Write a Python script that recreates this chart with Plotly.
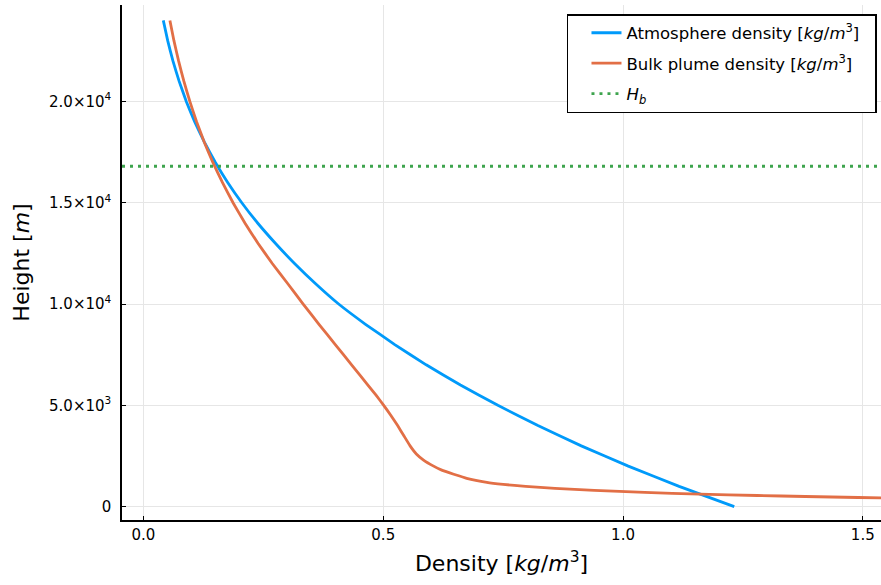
import plotly.graph_objects as go

# Atmosphere density profile (height m -> density kg/m^3)
atm_height = [0, 1000, 2000, 3000, 4000, 5000, 6000, 7000, 8000, 9000, 10000,
              11000, 12000, 13000, 14000, 15000, 16000, 17000, 18000, 19000, 20000,
              21000, 22000, 23000, 24000]
atm_density = [1.232, 1.117, 1.011, 0.913, 0.8225, 0.739, 0.661, 0.5895, 0.524,
               0.463, 0.407, 0.359, 0.315, 0.275, 0.238, 0.205, 0.1756, 0.1497,
               0.1268, 0.1067, 0.0893, 0.0743, 0.0614, 0.0505, 0.0413]

# Bulk plume density profile
plume_height = [24000, 23000, 22000, 21000, 20000, 19000, 18000, 17000, 16000, 15000,
                14000, 13000, 12000, 11000, 10000, 9000, 8000, 7000, 6000, 5500, 5000,
                4500, 4000, 3500, 3000, 2600, 2300, 2000, 1800, 1600, 1400, 1200, 1100,
                1000, 900, 800, 700, 620, 550, 500, 450, 420]
plume_density = [0.0551, 0.0635, 0.0732, 0.0842, 0.0967, 0.1107, 0.1266, 0.1445, 0.1646,
                 0.1868, 0.2115, 0.2387, 0.2686, 0.301, 0.333, 0.366, 0.400, 0.434,
                 0.468, 0.485, 0.501, 0.516, 0.530, 0.543, 0.556, 0.569, 0.584, 0.605,
                 0.622, 0.647, 0.674, 0.716, 0.750, 0.797, 0.858, 0.940, 1.045, 1.160,
                 1.280, 1.380, 1.490, 1.560]

# Buoyancy height
Hb = 16800

x_range = [-0.0448, 1.538]
y_range = [-660, 24760]
x_ticks = [0.0, 0.5, 1.0, 1.5]
x_tick_labels = ["0.0", "0.5", "1.0", "1.5"]
y_ticks = [0, 5000, 10000, 15000, 20000]
y_tick_labels = ["0", "5.0×10<sup>3</sup>", "1.0×10<sup>4</sup>", "1.5×10<sup>4</sup>", "2.0×10<sup>4</sup>"]

font_family = "DejaVu Sans, sans-serif"

fig = go.Figure()
fig.add_trace(go.Scatter(
    x=atm_density, y=atm_height, mode="lines", legendgroup="a",
    name="Atmosphere density [<i>kg</i>/<i>m</i><sup>3</sup>]\u00a0\u00a0",
    line=dict(color="#009AFA", width=2.8, shape="spline", smoothing=0.3),
))
fig.add_trace(go.Scatter(
    x=plume_density, y=plume_height, mode="lines", legendgroup="b",
    name="Bulk plume density [<i>kg</i>/<i>m</i><sup>3</sup>]",
    line=dict(color="#E26F46", width=2.8, shape="spline", smoothing=0.3),
))
fig.add_trace(go.Scatter(
    x=x_range, y=[Hb, Hb], mode="lines", legendgroup="c",
    name="<i>H</i><sub><i>b</i></sub>",
    line=dict(color="#3EA44E", width=2.8, dash="3px,5px"),
))

axis_common = dict(
    showgrid=True, gridcolor="#e6e6e6", gridwidth=1,
    zeroline=False, showline=True, linecolor="black", linewidth=1.5,
    ticks="inside", ticklen=4, tickcolor="black", tickwidth=1,
    tickfont=dict(family=font_family, size=15, color="black"),
    mirror=False,
)

fig.update_xaxes(
    range=x_range, tickvals=x_ticks, ticktext=x_tick_labels,
    title=dict(text="Density [<i>kg</i>/<i>m</i><sup>3</sup>]",
               font=dict(family=font_family, size=22, color="black"), standoff=13),
    **axis_common,
)
fig.update_yaxes(
    range=y_range, tickvals=y_ticks, ticktext=y_tick_labels,
    title=dict(text="Height [<i>m</i>]",
               font=dict(family=font_family, size=22, color="black"), standoff=13),
    ticklabelstandoff=6,
    **axis_common,
)

fig.update_layout(
    width=881, height=585,
    margin=dict(l=122, r=0, t=5, b=65),
    plot_bgcolor="white", paper_bgcolor="white",
    font=dict(family=font_family, size=14, color="black"),
    legend=dict(
        x=0.9947, y=0.9825, xanchor="right", yanchor="top",
        bgcolor="white", bordercolor="black", borderwidth=1.5,
        font=dict(family=font_family, size=16.5, color="black"),
        itemwidth=30, tracegroupgap=6, indentation=18,
    ),
    showlegend=True,
)

fig.write_html("out.html")
